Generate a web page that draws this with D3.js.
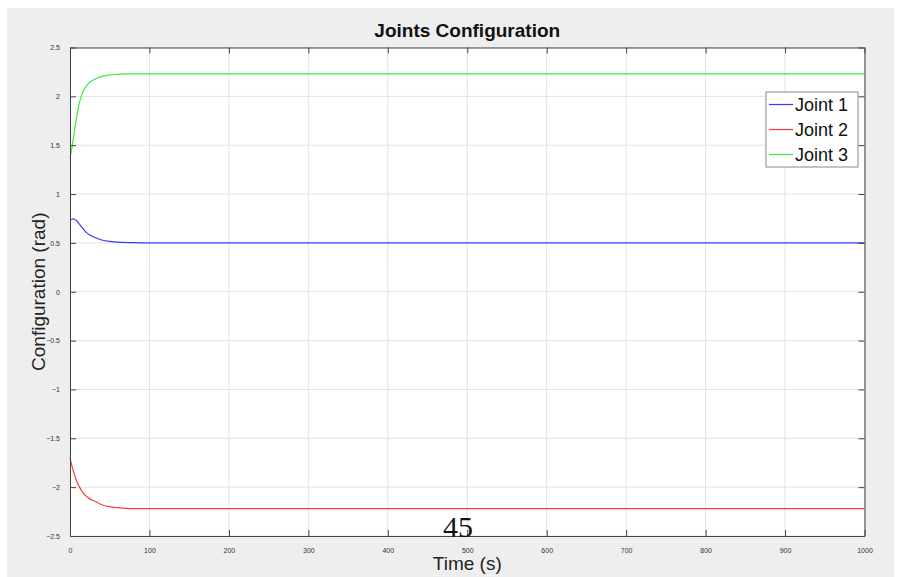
<!DOCTYPE html>
<html>
<head>
<meta charset="utf-8">
<script src="https://cdn.jsdelivr.net/npm/d3@7"></script>
<style>
  body { margin: 0; background: #fff; }
  svg { display: block; }
  text { font-family: "Liberation Sans", Arial, sans-serif; }
</style>
</head>
<body>
<div id="chart"></div>
<script>
// data
var time1 = [0, 2, 4, 6, 8, 10, 13, 16, 20, 25, 30, 40, 50, 60, 80, 100, 1000];
var joint1 = [0.73, 0.74, 0.745, 0.74, 0.73, 0.71, 0.68, 0.65, 0.61, 0.58, 0.56, 0.53, 0.515, 0.507, 0.502, 0.5, 0.5];

var time2 = [0, 2, 4, 6, 8, 10, 12, 15, 20, 25, 30, 35, 40, 50, 60, 75, 100, 1000];
var joint2 = [-1.70, -1.77, -1.83, -1.88, -1.93, -1.97, -2.00, -2.04, -2.09, -2.12, -2.14, -2.16, -2.18, -2.20, -2.21, -2.22, -2.22, -2.22];

var time3 = [0, 2, 4, 6, 8, 10, 12, 14, 17, 20, 25, 30, 35, 40, 50, 60, 70, 100, 1000];
var joint3 = [1.37, 1.45, 1.56, 1.67, 1.77, 1.86, 1.94, 2.00, 2.06, 2.10, 2.145, 2.17, 2.19, 2.205, 2.22, 2.225, 2.23, 2.23, 2.23];

var seriesNames = ["Joint 1", "Joint 2", "Joint 3"];
var seriesColors = ["#3a3aff", "#ff3a3a", "#3aee3a"];
var xTicks = [0, 100, 200, 300, 400, 500, 600, 700, 800, 900, 1000];
var yTicks = [-2.5, -2, -1.5, -1, -0.5, 0, 0.5, 1, 1.5, 2, 2.5];

var W = 901, H = 577;
var margin = { top: 47.5, right: 36.5, bottom: 41, left: 70 },
    width = W - margin.left - margin.right,
    height = H - margin.top - margin.bottom;

var svg = d3.select("#chart").append("svg")
    .attr("width", W)
    .attr("height", H);

// grey figure background
svg.append("rect")
    .attr("x", 7).attr("y", 8)
    .attr("width", 887).attr("height", 569)
    .attr("fill", "#eeeeee");

var g = svg.append("g")
    .attr("transform", "translate(" + margin.left + "," + margin.top + ")");

var x = d3.scaleLinear().domain([0, 1000]).range([0, width]);
var y = d3.scaleLinear().domain([-2.5, 2.5]).range([height, 0]);

g.append("rect")
    .attr("width", width).attr("height", height)
    .attr("fill", "#fff");

// grid
g.selectAll(".vgrid").data(xTicks).enter().append("line")
    .attr("class", "vgrid")
    .attr("x1", function(d) { return x(d); }).attr("x2", function(d) { return x(d); })
    .attr("y1", 0).attr("y2", height)
    .attr("stroke", "#e2e2e2").attr("stroke-width", 1);
g.selectAll(".hgrid").data(yTicks).enter().append("line")
    .attr("class", "hgrid")
    .attr("y1", function(d) { return y(d); }).attr("y2", function(d) { return y(d); })
    .attr("x1", 0).attr("x2", width)
    .attr("stroke", "#e2e2e2").attr("stroke-width", 1);

// lines
var line = d3.line()
    .x(function(d) { return x(d[0]); })
    .y(function(d) { return y(d[1]); })
    .curve(d3.curveMonotoneX);

var series = [d3.zip(time1, joint1), d3.zip(time2, joint2), d3.zip(time3, joint3)];
series.forEach(function(s, i) {
  g.append("path")
      .datum(s)
      .attr("fill", "none")
      .attr("stroke", seriesColors[i])
      .attr("stroke-width", 1.2)
      .attr("d", line);
});

// axes (ticks inside, box all round)
var tickFont = function(sel) {
  sel.selectAll("text").style("font-size", "7px").attr("fill", "#333");
  sel.selectAll("line").attr("stroke", "#444");
  sel.select(".domain").attr("stroke", "#444");
};

g.append("g")
    .attr("transform", "translate(0," + height + ")")
    .call(d3.axisBottom(x).tickValues(xTicks).tickFormat(d3.format("d"))
      .tickSizeInner(-6).tickSizeOuter(0).tickPadding(12))
    .call(tickFont);
g.append("g")
    .call(d3.axisTop(x).tickValues(xTicks).tickFormat("")
      .tickSizeInner(-6).tickSizeOuter(0))
    .call(tickFont);
g.append("g")
    .call(d3.axisLeft(y).tickValues(yTicks).tickFormat(d3.format("~g"))
      .tickSizeInner(-6).tickSizeOuter(0).tickPadding(10))
    .call(tickFont);
g.append("g")
    .attr("transform", "translate(" + width + ",0)")
    .call(d3.axisRight(y).tickValues(yTicks).tickFormat("")
      .tickSizeInner(-6).tickSizeOuter(0))
    .call(tickFont);

// title and labels
svg.append("text")
    .attr("x", margin.left + width / 2).attr("y", 37)
    .attr("text-anchor", "middle")
    .attr("font-size", "19px").attr("font-weight", "bold")
    .attr("fill", "#111")
    .text("Joints Configuration");

svg.append("text")
    .attr("x", margin.left + width / 2).attr("y", 570)
    .attr("text-anchor", "middle")
    .attr("font-size", "19px").attr("fill", "#222")
    .text("Time (s)");

svg.append("text")
    .attr("transform", "translate(45," + (margin.top + height / 2) + ") rotate(-90)")
    .attr("text-anchor", "middle")
    .attr("font-size", "19px").attr("fill", "#222")
    .text("Configuration (rad)");

svg.append("text")
    .attr("x", 458).attr("y", 537)
    .attr("text-anchor", "middle")
    .style("font-family", "'Liberation Serif', 'DejaVu Serif', serif")
    .attr("font-size", "30px").attr("fill", "#111")
    .text("45");

// legend
var legend = svg.append("g").attr("transform", "translate(766,92)");
legend.append("rect")
    .attr("width", 92).attr("height", 75)
    .attr("fill", "#fff").attr("stroke", "#888").attr("stroke-width", 1);
seriesNames.forEach(function(name, i) {
  var cy = 12.5 + i * 25;
  legend.append("line")
      .attr("x1", 3).attr("x2", 27).attr("y1", cy).attr("y2", cy)
      .attr("stroke", seriesColors[i]).attr("stroke-width", 1.2);
  legend.append("text")
      .attr("x", 29).attr("y", cy + 6.5)
      .attr("font-size", "18px").attr("fill", "#111")
      .text(name);
});
</script>
</body>
</html>
